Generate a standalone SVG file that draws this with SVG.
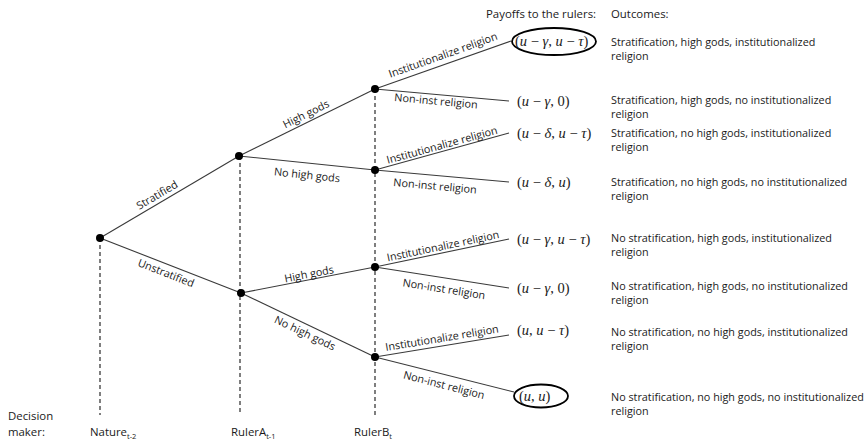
<svg xmlns="http://www.w3.org/2000/svg" width="866" height="441" viewBox="0 0 866 441">
<style>
.t{font-family:"Open Sans","Noto Sans",sans-serif;font-size:10.8px;fill:#1a1a1a}
.h{font-family:"Open Sans","Noto Sans",sans-serif;font-size:11.4px;fill:#1a1a1a}
.sub{font-size:7.5px}
.m{font-family:"Liberation Serif","DejaVu Serif",serif;font-size:14.5px;fill:#1a1a1a}
.i{font-style:italic}
.e{stroke:#3a3a3a;stroke-width:1.1;fill:none}
.d{stroke:#2a2a2a;stroke-width:1.2;stroke-dasharray:4 3;fill:none}
.n{fill:#000}
.el{fill:none;stroke:#000;stroke-width:1.8}
</style>
<rect width="866" height="441" fill="#fff"/>
<g id="stages">
<line class="d" x1="100" y1="238" x2="100" y2="415"/>
<line class="d" x1="240" y1="156" x2="240" y2="415"/>
<line class="d" x1="375" y1="89" x2="375" y2="415"/>
</g>
<g id="connectors">
<line class="e" x1="100" y1="238" x2="239" y2="156"/>
<line class="e" x1="100" y1="238" x2="241" y2="293"/>
<line class="e" x1="239" y1="156" x2="375" y2="89"/>
<line class="e" x1="239" y1="156" x2="375" y2="170"/>
<line class="e" x1="241" y1="293" x2="375" y2="267"/>
<line class="e" x1="241" y1="293" x2="375" y2="357"/>
<line class="e" x1="375" y1="89" x2="511" y2="41"/>
<line class="e" x1="375" y1="89" x2="509" y2="101"/>
<line class="e" x1="375" y1="170" x2="509" y2="133"/>
<line class="e" x1="375" y1="170" x2="509" y2="182"/>
<line class="e" x1="375" y1="267" x2="509" y2="239"/>
<line class="e" x1="375" y1="267" x2="509" y2="288"/>
<line class="e" x1="375" y1="357" x2="509" y2="335"/>
<line class="e" x1="375" y1="357" x2="514" y2="392"/>
</g>
<g id="edge-labels">
<text class="t" text-anchor="middle" dy=".35em" transform="translate(157,195) rotate(-30.5)">Stratified</text>
<text class="t" text-anchor="middle" dy=".35em" transform="translate(166,273) rotate(21.3)">Unstratified</text>
<text class="t" text-anchor="middle" dy=".35em" transform="translate(306,114) rotate(-26.2)">High gods</text>
<text class="t" text-anchor="middle" dy=".35em" transform="translate(307,175) rotate(5.9)">No high gods</text>
<text class="t" text-anchor="middle" dy=".35em" transform="translate(309,274) rotate(-11)">High gods</text>
<text class="t" text-anchor="middle" dy=".35em" transform="translate(305,333) rotate(25.5)">No high gods</text>
<text class="t" text-anchor="middle" dy=".35em" transform="translate(443,55) rotate(-19.7)">Institutionalize religion</text>
<text class="t" text-anchor="middle" dy=".35em" transform="translate(436,101) rotate(5.1)">Non-inst religion</text>
<text class="t" text-anchor="middle" dy=".35em" transform="translate(442,145) rotate(-15.4)">Institutionalize religion</text>
<text class="t" text-anchor="middle" dy=".35em" transform="translate(435,186) rotate(5.1)">Non-inst religion</text>
<text class="t" text-anchor="middle" dy=".35em" transform="translate(443,246) rotate(-11.8)">Institutionalize religion</text>
<text class="t" text-anchor="middle" dy=".35em" transform="translate(444,289) rotate(8.9)">Non-inst religion</text>
<text class="t" text-anchor="middle" dy=".35em" transform="translate(442,338) rotate(-9.3)">Institutionalize religion</text>
<text class="t" text-anchor="middle" dy=".35em" transform="translate(444,385) rotate(14.5)">Non-inst religion</text>
</g>
<g id="nature">
<circle class="n" cx="100" cy="238" r="4"/>
</g>
<g id="rulerA-strat"><circle class="n" cx="239" cy="156" r="4"/></g>
<g id="rulerA-unstrat"><circle class="n" cx="241" cy="293" r="4"/></g>
<g id="rulerB-1"><circle class="n" cx="375" cy="89" r="4"/></g>
<g id="rulerB-2"><circle class="n" cx="375" cy="170" r="4"/></g>
<g id="rulerB-3"><circle class="n" cx="375" cy="267" r="4"/></g>
<g id="rulerB-4"><circle class="n" cx="375" cy="357" r="4"/></g>
<g id="headers">
<text class="h" x="486" y="18">Payoffs to the rulers:</text>
<text class="h" x="611" y="18">Outcomes:</text>
</g>
<g id="leaf-1">
<ellipse class="el" cx="554" cy="41.5" rx="42" ry="13.5"/>
<text class="m" x="515" y="46">(<tspan class="i">u</tspan> − <tspan class="i">γ</tspan>, <tspan class="i">u</tspan> − <tspan class="i">τ</tspan>)</text>
<text class="t" x="611" y="46">Stratification, high gods, institutionalized</text>
<text class="t" x="611" y="60">religion</text>
</g>
<g id="leaf-2">
<text class="m" x="517" y="105.5">(<tspan class="i">u</tspan> − <tspan class="i">γ</tspan>, 0)</text>
<text class="t" x="611" y="104">Stratification, high gods, no institutionalized</text>
<text class="t" x="611" y="118">religion</text>
</g>
<g id="leaf-3">
<text class="m" x="517" y="137.5">(<tspan class="i">u</tspan> − <tspan class="i">δ</tspan>, <tspan class="i">u</tspan> − <tspan class="i">τ</tspan>)</text>
<text class="t" x="611" y="137">Stratification, no high gods, institutionalized</text>
<text class="t" x="611" y="151">religion</text>
</g>
<g id="leaf-4">
<text class="m" x="517" y="186.5">(<tspan class="i">u</tspan> − <tspan class="i">δ</tspan>, <tspan class="i">u</tspan>)</text>
<text class="t" x="611" y="186">Stratification, no high gods, no institutionalized</text>
<text class="t" x="611" y="200">religion</text>
</g>
<g id="leaf-5">
<text class="m" x="517" y="243.5">(<tspan class="i">u</tspan> − <tspan class="i">γ</tspan>, <tspan class="i">u</tspan> − <tspan class="i">τ</tspan>)</text>
<text class="t" x="611" y="242">No stratification, high gods, institutionalized</text>
<text class="t" x="611" y="256">religion</text>
</g>
<g id="leaf-6">
<text class="m" x="517" y="292.5">(<tspan class="i">u</tspan> − <tspan class="i">γ</tspan>, 0)</text>
<text class="t" x="611" y="290">No stratification, high gods, no institutionalized</text>
<text class="t" x="611" y="304">religion</text>
</g>
<g id="leaf-7">
<text class="m" x="517" y="334.5">(<tspan class="i">u</tspan>, <tspan class="i">u</tspan> − <tspan class="i">τ</tspan>)</text>
<text class="t" x="611" y="336">No stratification, no high gods, institutionalized</text>
<text class="t" x="611" y="350">religion</text>
</g>
<g id="leaf-8">
<ellipse class="el" cx="541" cy="396" rx="27" ry="11.5"/>
<text class="m" x="519" y="400.5">(<tspan class="i">u</tspan>, <tspan class="i">u</tspan>)</text>
<text class="t" x="611" y="401">No stratification, no high gods, no institutionalized</text>
<text class="t" x="611" y="415">religion</text>
</g>
<g id="decision-makers">
<text class="h" x="8" y="420">Decision</text>
<text class="h" x="8" y="436">maker:</text>
<text class="h" x="90" y="436">Nature<tspan class="sub" dy="2.5">t-2</tspan></text>
<text class="h" x="231" y="436">RulerA<tspan class="sub" dy="2.5">t-1</tspan></text>
<text class="h" x="354" y="436">RulerB<tspan class="sub" dy="2.5">t</tspan></text>
</g>
</svg>
